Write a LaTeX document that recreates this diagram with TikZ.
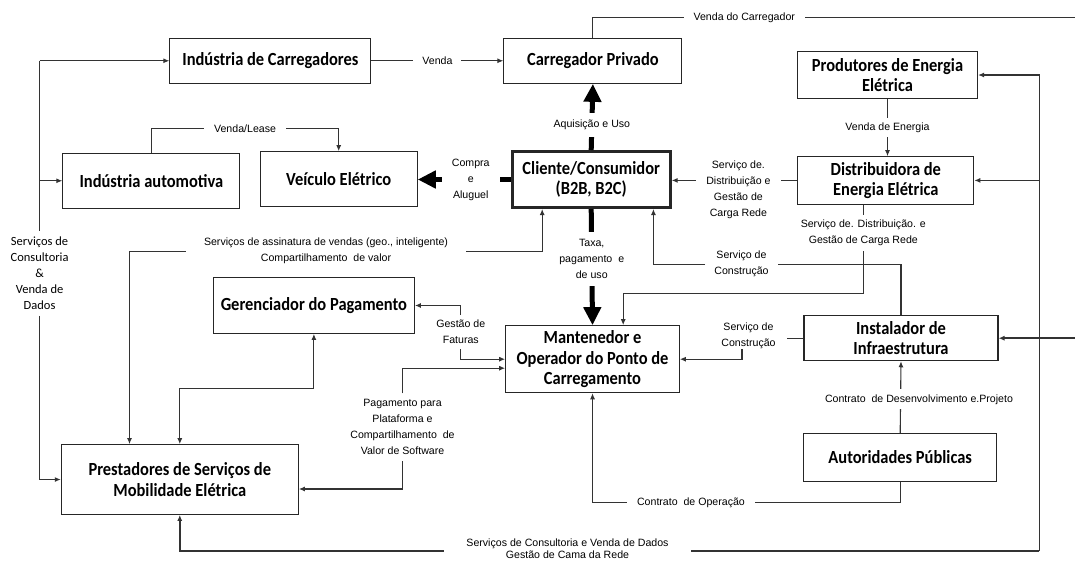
\documentclass[tikz,border=0pt]{standalone}
\usepackage{fontspec}
\setmainfont{Liberation Sans}
\newfontfamily\bx{Carlito}[FakeStretch=0.89]
\newfontfamily\cb{Carlito}
\usetikzlibrary{arrows.meta,calc}
\begin{document}
\begin{tikzpicture}[x=1pt,y=-1pt,
 box/.style={draw=black!85,line width=1.1pt,fill=white,inner sep=0pt,align=center,font=\bx\bfseries\fontsize{18.5}{20.5}\selectfont},
 lbl/.style={font=\fontsize{10.6}{16}\selectfont,align=center,fill=white,inner xsep=6pt,inner ysep=3pt},
 ln/.style={draw=black!80,line width=1.1pt},
 arr/.style={ln,-{Latex[length=6pt,width=5pt]}},
 barr/.style={ln,{Latex[length=6pt,width=5pt]}-{Latex[length=6pt,width=5pt]}},
 fat/.style={draw=black,line width=5pt,-{Triangle[length=18pt,width=17pt]}},
]
\fill[white] (0,0) rectangle (1075,562);
\useasboundingbox (0,0) rectangle (1075,562);

% boxes
\node[box,minimum width=201pt,minimum height=45pt] (indcar) at (270.4,60.8) {Indústria de Carregadores};
\node[box,minimum width=178pt,minimum height=45pt] (carpriv) at (592.9,60.8) {Carregador Privado};
\node[box,minimum width=180pt,minimum height=46.6pt] (prod) at (887.5,75) {Produtores de Energia\\Elétrica};
\node[box,minimum width=177pt,minimum height=55pt] (indauto) at (151.4,180.8) {Indústria automotiva};
\node[box,minimum width=157pt,minimum height=55pt] (veic) at (338.7,179.2) {Veículo Elétrico};
\node[box,line width=3pt,minimum width=158pt,minimum height=56pt] (cli) at (591.2,179.5) {Cliente/Consumidor\\(B2B, B2C)};
\node[box,minimum width=176pt,minimum height=47.3pt] (dist) at (885.8,180.4) {Distribuidora de\\Energia Elétrica};
\node[box,minimum width=201pt,minimum height=55.6pt] (ger) at (313.9,305.5) {Gerenciador do Pagamento};
\node[box,minimum width=173.6pt,minimum height=67pt] (mant) at (592.5,359.2) {Mantenedor e\\Operador do Ponto de\\Carregamento};
\node[box,minimum width=194pt,minimum height=45pt] (inst) at (901,338.2) {Instalador de\\Infraestrutura};
\node[box,minimum width=193pt,minimum height=47.7pt] (aut) at (900.2,457.2) {Autoridades Públicas};
\node[box,minimum width=237pt,minimum height=69.6pt] (prest) at (179.8,479.5) {Prestadores de Serviços de\\Mobilidade Elétrica};

% left consulting line
\coordinate (lx) at (39.6,0);
\node[font=\cb\fontsize{12.5}{16}\selectfont,align=center,inner xsep=2pt,inner ysep=6pt] (scv) at (39.6,273.3) {Serviços de\\Consultoria\\\&\\Venda de\\Dados};
\draw[ln] (lx |- indcar.west) -- (scv);
\draw[arr] (scv) |- (prest.west);
\draw[arr] (lx |- indcar.west) -- (indcar.west);
\draw[arr] (lx |- indauto.west) -- (indauto.west);

% Venda
\draw[arr] (indcar.east) -- node[lbl,inner xsep=9pt]{Venda} (carpriv.west);

% Venda do Carregador
\coordinate (tr) at (1075,17.3);
\draw[ln] (carpriv.north) |- node[lbl,pos=0.657,inner xsep=10pt]{Venda do Carregador} (tr);

% Aquisicao e Uso
\draw[fat] (cli.north) -- node[lbl,pos=0.375,inner ysep=7pt]{Aquisição e Uso} (carpriv.south);

% Compra e Aluguel
\draw[fat] (cli.west) -- node[lbl,pos=0.43,inner xsep=10pt]{Compra\\e\\Aluguel} (cli.west -| veic.east);

% Distribuidora -> Cliente
\draw[arr] (dist.west) -- (dist.west -| cli.east);
\node[lbl,inner xsep=10pt] (sdd) at (738.4,189.5) {Serviço de.\\Distribuição e\\Gestão de\\Carga Rede};

% Venda de Energia
\draw[arr] (prod.south) -- node[lbl,inner ysep=5pt]{Venda de Energia} (prod.south |- dist.north);

% Venda/Lease
\draw[arr] (indauto.north) -- ++(0,-24) -| node[lbl,pos=0.25,inner xsep=10pt]{Venda/Lease} (veic.north);

% Servicos de assinatura
\node[lbl,inner xsep=18pt,inner ysep=1pt] (sa) at (326,251.2) {Serviços de assinatura de vendas (geo., inteligente)\\Compartilhamento\ \ de valor};
\draw[arr] (sa) -| ([xshift=-49pt]cli.south);
\draw[arr] (sa) -| ([xshift=-50.3pt]prest.north);

% Taxa
\draw[fat] (cli.south) -- node[lbl,pos=0.43,inner ysep=7pt]{Taxa,\\pagamento\ \ e\\de uso} (mant.north);

% Instalador -> Cliente
\node[lbl,inner xsep=9pt] (sc1) at (741.5,264.2) {Serviço de\\Construção};
\draw[ln] (inst.north) |- (sc1);
\draw[arr] (sc1) -| ([xshift=62.2pt]cli.south);

% Distribuidora -> Mantenedor
\node[lbl,inner ysep=5pt] (sd2) at (863.3,233) {Serviço de. Distribuição. e\\Gestão de Carga Rede};
\coordinate (k1) at (863.3,293.3);
\draw[ln] ([xshift=-22.5pt]dist.south) -- (sd2);
\draw[arr] (sd2) -- (k1) -| ([xshift=30.7pt]mant.north);

% Instalador -> Mantenedor
\node[lbl,inner sep=2pt] (sc2) at (748.5,335.5) {Serviço de\\Construção};
\draw[ln] (inst.west) -- ++(-16.7,0);
\draw[arr] (742,349) |- (mant.east);

% Gestao de Faturas
\node[lbl,inner xsep=3pt,inner ysep=5pt] (gf) at (460.8,332.2) {Gestão de\\Faturas};
\draw[arr] (gf) |- (ger.east);
\draw[arr] (gf) |- (mant.west);

% Pagamento
\node[lbl,inner ysep=6pt] (pg) at (402.5,427.3) {Pagamento para\\Plataforma e\\Compartilhamento\ \ de\\Valor de Software};
\draw[arr] (pg) |- ([yshift=-9pt]mant.west);
\draw[arr] (pg) |- ([yshift=-9.5pt]prest.east);

% Gerenciador <-> Prestadores
\draw[barr] (ger.south) -- ++(0,55) -| (prest.north);

% Autoridades -> Mantenedor
\coordinate (opb) at (592.5,502.7);
\draw[arr] (aut.south) |- node[lbl,pos=0.84,inner xsep=10pt]{Contrato\ \ de Operação} (opb) -- (mant.south);

% Autoridades -> Instalador
\draw[arr] (aut.north) -- (inst.south);
\node[lbl,inner ysep=5pt] (cd) at (919,399.3) {Contrato\ \ de Desenvolvimento e.Projeto};

% right bus
\coordinate (rb) at (1039.2,551);
\draw[arr,line width=1.3pt] (rb) |- (prod.east);
\draw[arr] (rb |- dist.east) -- (dist.east);
\draw[arr,line width=1.6pt] (rb) -- (rb -| prest.south) -- (prest.south);
\node[lbl,font=\fontsize{10.6}{12.5}\selectfont,inner xsep=22pt,inner ysep=0pt] (bl) at (567.5,548.5) {Serviços de Consultoria e Venda de Dados\\Gestão de Cama da Rede};

% Instalador from right
\coordinate (ir) at (1075,338.2);
\draw[arr,line width=1.6pt] (ir) -- (inst.east);
\end{tikzpicture}
\end{document}
